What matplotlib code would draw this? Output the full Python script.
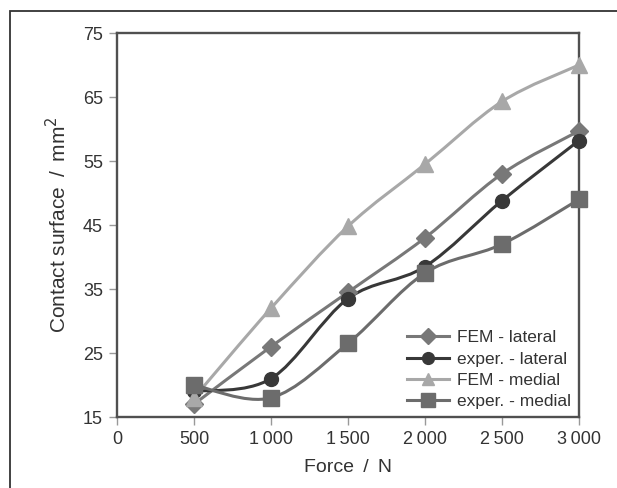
import matplotlib
matplotlib.use("Agg")
import matplotlib.pyplot as plt
import numpy as np
from matplotlib.path import Path
from matplotlib.patches import PathPatch, Rectangle
from matplotlib.lines import Line2D

plt.rcParams['font.family'] = ['Liberation Sans', 'DejaVu Sans']

force = [500, 1000, 1500, 2000, 2500, 3000]
fem_lateral = [17.0, 26.0, 34.5, 43.0, 53.0, 59.7]
exp_lateral = [19.0, 21.0, 33.5, 38.5, 48.8, 58.2]
fem_medial = [18.0, 32.0, 44.8, 54.5, 64.3, 70.0]
exp_medial = [20.0, 18.0, 26.5, 37.5, 42.0, 49.0]
labels = ["FEM - lateral", "exper. - lateral", "FEM - medial", "exper. - medial"]
xticks = [0, 500, 1000, 1500, 2000, 2500, 3000]
xticklabels = ["0", "500", "1\u2009000", "1\u2009500", "2\u2009000", "2\u2009500", "3\u2009000"]
yticks = [15, 25, 35, 45, 55, 65, 75]

series = [fem_lateral, exp_lateral, fem_medial, exp_medial]
colors = ["#787878", "#383838", "#a8a8a8", "#6c6c6c"]
markers = ["D", "o", "^", "s"]
msizes = [9, 10, 11, 11.5]
lws = [2.2, 2.2, 2.2, 2.2]

fig = plt.figure(figsize=(6.17, 4.88), dpi=100)
ax = fig.add_axes([117/617, 1-417/488, (579-117)/617, (417-33)/488])

# outer frame
fig.patches.append(Rectangle((10/617, -0.1), 1.2, 1 - 11/488 + 0.1, transform=fig.transFigure,
                             fill=False, edgecolor="#333333", lw=1.3))


def smooth_path(x, y):
    x = np.asarray(x, float); y = np.asarray(y, float)
    n = len(x)
    verts = [(x[0], y[0])]
    codes = [Path.MOVETO]
    for i in range(n - 1):
        p0 = np.array([x[i-1], y[i-1]]) if i > 0 else np.array([x[i], y[i]])
        p1 = np.array([x[i], y[i]])
        p2 = np.array([x[i+1], y[i+1]])
        p3 = np.array([x[i+2], y[i+2]]) if i + 2 < n else p2
        c1 = p1 + (p2 - p0) / 6
        c2 = p2 - (p3 - p1) / 6
        verts += [tuple(c1), tuple(c2), tuple(p2)]
        codes += [Path.CURVE4] * 3
    return Path(verts, codes)


handles = []
for s, c, m, ms, lw, lab in zip(series, colors, markers, msizes, lws, labels):
    ax.add_patch(PathPatch(smooth_path(force, s), fill=False, edgecolor=c, lw=lw, zorder=2))
    ax.plot(force, s, linestyle="none", marker=m, color=c, markersize=ms, zorder=3,
            clip_on=False)
    handles.append(Line2D([], [], color=c, lw=lw, marker=m, markersize=ms * 0.85))

ax.set_xlim(0, 3000)
ax.set_ylim(15, 75)
ax.set_xticks(xticks)
ax.set_xticklabels(xticklabels)
ax.set_yticks(yticks)
for sp in ax.spines.values():
    sp.set_color("#505050")
    sp.set_linewidth(1.7)
ax.tick_params(axis="both", direction="out", length=6, width=1, color="#999999",
               labelsize=13, labelcolor="#333333", pad=4)
ax.set_xlabel("Force\u2009 / \u2009N", fontsize=14, color="#333333", labelpad=8)
ax.set_ylabel("Contact surface\u2009 / \u2009mm$^{2}$", fontsize=15, color="#333333", labelpad=9)

leg = ax.legend(handles, labels, loc="lower right", frameon=False, fontsize=12.5,
                handlelength=2.4, handletextpad=0.5, labelspacing=0.35,
                borderaxespad=0.05, labelcolor="#333333")

fig.savefig("out.png", dpi=100)
